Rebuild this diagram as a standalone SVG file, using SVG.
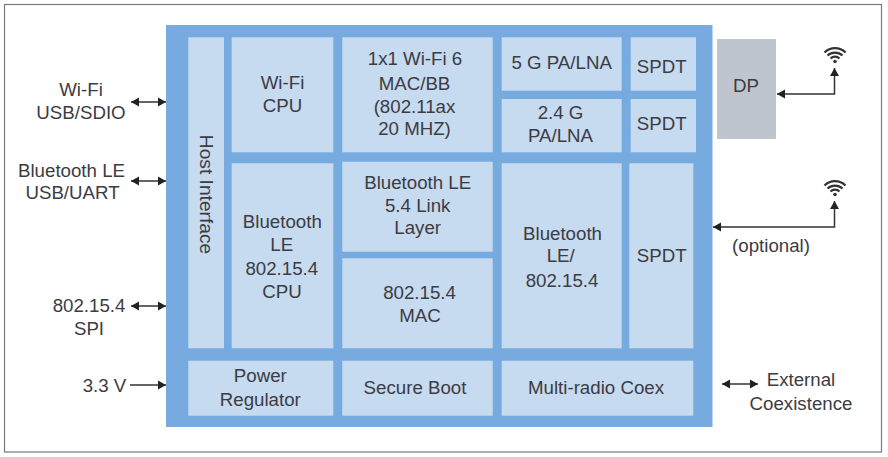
<svg xmlns="http://www.w3.org/2000/svg" width="888" height="457" viewBox="0 0 888 457">
<style>
text{font-family:"Liberation Sans",Arial,sans-serif;font-size:18.700px;fill:#3c3c42;text-anchor:middle}
.b{fill:#c6daf0}
.c{fill:none;stroke:#333;stroke-width:1.500}
.w{fill:none;stroke:#333;stroke-width:2.200}
</style>
<defs>
<marker id="a" markerUnits="userSpaceOnUse" markerWidth="9" markerHeight="10" refX="8" refY="5" orient="auto-start-reverse"><path d="M0 0.500L8 5L0 9.500z" fill="#222"/></marker>
<g id="wifi"><path class="w" d="M-10.500 -2.500A15 15 0 0 1 10.500 -2.500M-7.500 0.500A11 11 0 0 1 7.500 0.500M-4.500 3.500A6.500 6.500 0 0 1 4.500 3.500"/><circle cx="0" cy="6.500" r="1.800" fill="#333"/></g>
</defs>
<rect width="888" height="457" fill="#fff"/>
<rect id="frame" x="4.500" y="4.500" width="877" height="447.500" fill="none" stroke="#7a7a7a" stroke-width="1.200"/>
<rect id="chip" x="166" y="25" width="546.500" height="402" fill="#77abdf"/>
<g id="host"><rect class="b" x="188.300" y="37.300" width="35.700" height="311"/><text style="font-size:19.200px" transform="translate(200 194.500) rotate(90)">Host Interface</text></g>
<g id="wifi-cpu"><rect class="b" x="231.700" y="37.300" width="101.600" height="115"/><text x="282.500" y="88.500">Wi-Fi</text><text x="282.500" y="111.500">CPU</text></g>
<g id="mac-bb"><rect class="b" x="342.300" y="37.300" width="150.400" height="115"/><text x="415" y="65">1x1 Wi-Fi 6</text><text x="414.500" y="90">MAC/BB</text><text x="414.500" y="112.500">(802.11ax</text><text x="414.500" y="135">20 MHZ)</text></g>
<g id="pa5"><rect class="b" x="501.700" y="37.300" width="120" height="53.400"/><text x="561.700" y="68.500">5 G PA/LNA</text></g>
<g id="spdt1"><rect class="b" x="630.700" y="37.300" width="65.300" height="53.400"/><text x="661.700" y="72.500">SPDT</text></g>
<g id="pa24"><rect class="b" x="501.700" y="99" width="120" height="53.300"/><text x="560.500" y="119">2.4 G</text><text x="560.500" y="141.700">PA/LNA</text></g>
<g id="spdt2"><rect class="b" x="630.700" y="99" width="65.300" height="53.300"/><text x="661.700" y="130">SPDT</text></g>
<g id="ble-cpu"><rect class="b" x="231.700" y="163.300" width="101.600" height="185"/><text x="282.300" y="227.500">Bluetooth</text><text x="281.800" y="251">LE</text><text x="281.800" y="275">802.15.4</text><text x="282" y="297.500">CPU</text></g>
<g id="link"><rect class="b" x="342.300" y="161.700" width="150.400" height="90"/><text x="417.700" y="189">Bluetooth LE</text><text x="417.700" y="211.700">5.4 Link</text><text x="417.700" y="234">Layer</text></g>
<g id="mac154"><rect class="b" x="342.300" y="258.300" width="150.400" height="90"/><text x="419.500" y="299">802.15.4</text><text x="420" y="321.700">MAC</text></g>
<g id="ble154"><rect class="b" x="501.700" y="163.300" width="120" height="185"/><text x="562.500" y="240">Bluetooth</text><text x="560.700" y="262.300">LE/</text><text x="562" y="286.700">802.15.4</text></g>
<g id="spdt3"><rect class="b" x="629.300" y="163.300" width="64" height="185"/><text x="661.700" y="262.300">SPDT</text></g>
<g id="power"><rect class="b" x="188.300" y="360.700" width="145" height="55"/><text x="260.300" y="382.300">Power</text><text x="260.300" y="405.700">Regulator</text></g>
<g id="secure"><rect class="b" x="342.300" y="360.700" width="150.400" height="55"/><text x="415" y="394">Secure Boot</text></g>
<g id="coex"><rect class="b" x="501.700" y="360.700" width="191.600" height="55"/><text x="596" y="394">Multi-radio Coex</text></g>
<g id="dp"><rect x="717" y="39" width="59" height="100" fill="#bec5ce"/><text x="746" y="92">DP</text></g>
<g id="ant1"><use href="#wifi" x="835" y="55"/></g>
<g id="ant2"><use href="#wifi" x="835" y="188"/></g>
<g id="labels">
<text x="81" y="96">Wi-Fi</text><text x="81" y="119">USB/SDIO</text>
<text x="71.500" y="177">Bluetooth LE</text><text x="72.500" y="199">USB/UART</text>
<text x="89" y="312">802.15.4</text><text x="89" y="335">SPI</text>
<text x="104.500" y="392">3.3 V</text>
<text x="771" y="252">(optional)</text>
<text x="801" y="386">External</text><text x="801" y="410">Coexistence</text>
</g>
<g id="connectors">
<path class="c" d="M131 102H166" marker-start="url(#a)" marker-end="url(#a)"/>
<path class="c" d="M131 181H166" marker-start="url(#a)" marker-end="url(#a)"/>
<path class="c" d="M131 306H166" marker-start="url(#a)" marker-end="url(#a)"/>
<path class="c" d="M130 385H166" marker-end="url(#a)"/>
<path class="c" d="M722 384H758" marker-start="url(#a)" marker-end="url(#a)"/>
<path class="c" d="M777 94H834.500V68" marker-start="url(#a)" marker-end="url(#a)"/>
<path class="c" d="M713 227H834.500V201" marker-start="url(#a)" marker-end="url(#a)"/>
</g>
</svg>
